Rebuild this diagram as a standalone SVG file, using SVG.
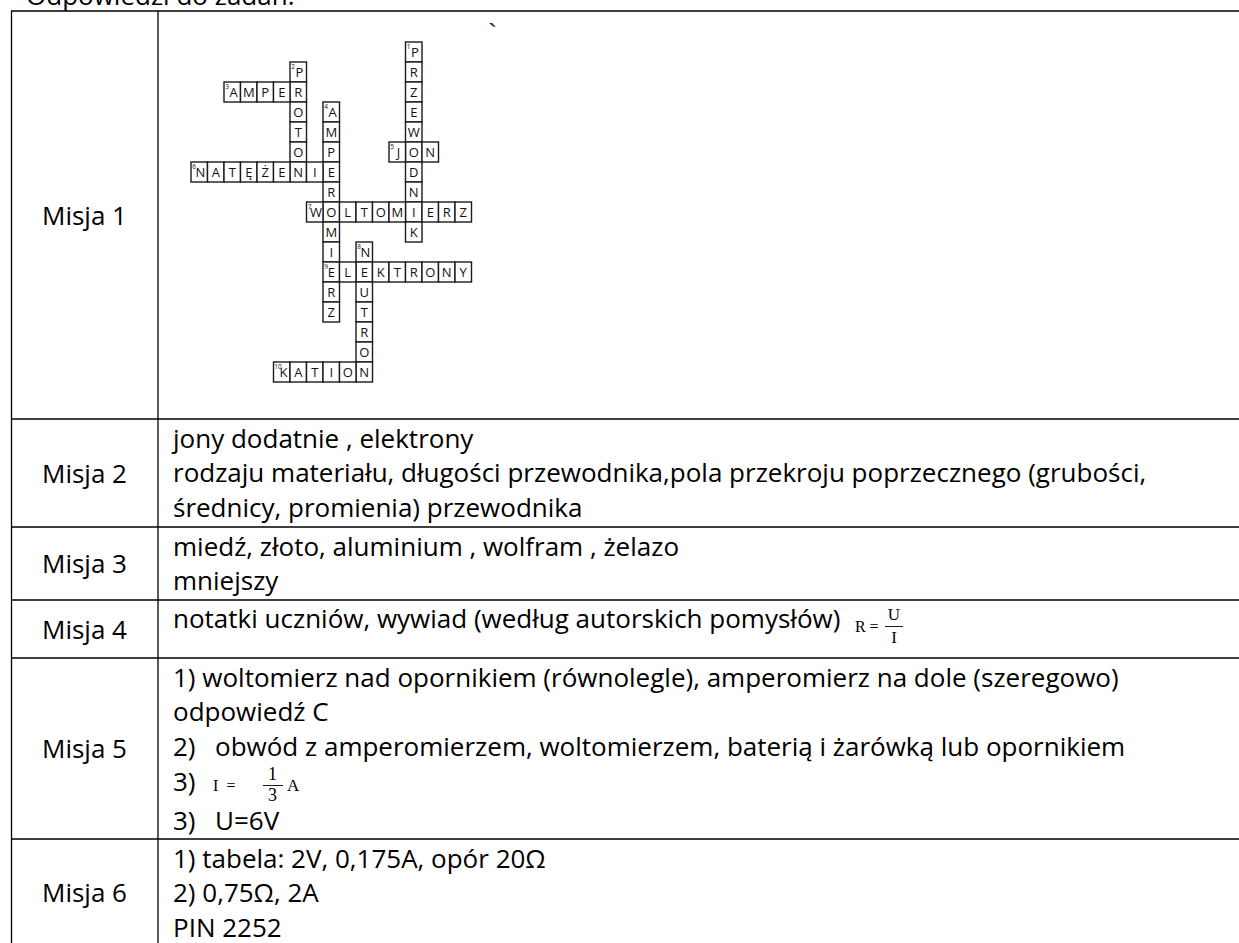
<svg xmlns="http://www.w3.org/2000/svg" width="1239" height="943" viewBox="0 0 1239 943">
<style>
.t{font-family:"Open Sans","Liberation Sans",sans-serif;font-size:26px;fill:#000}
.lbl{text-anchor:middle}
.grid line{stroke:#000;stroke-width:1.3}
.cw rect{fill:#fff;stroke:#1a1a1a;stroke-width:1.4}
.cl{font-family:"Open Sans","Liberation Sans",sans-serif;font-size:13px;fill:#111;text-anchor:middle}
.cn{font-family:"Open Sans","Liberation Sans",sans-serif;font-size:6.5px;fill:#111}
.m{font-family:"Liberation Serif","Times New Roman",serif;fill:#000}
</style>
<rect width="1239" height="943" fill="#fff"/>
<text class="t" x="26" y="5">Odpowiedzi do zadań:</text>
<text x="488" y="43" font-family="Liberation Sans, sans-serif" font-size="28" fill="#333">`</text>

<g id="table-grid" class="grid">
<line x1="11.5" y1="11" x2="11.5" y2="943"/>
<line x1="158" y1="11" x2="158" y2="943"/>
<line x1="11" y1="11" x2="1239" y2="11"/>
<line x1="11" y1="419" x2="1239" y2="419"/>
<line x1="11" y1="527" x2="1239" y2="527"/>
<line x1="11" y1="600" x2="1239" y2="600"/>
<line x1="11" y1="658" x2="1239" y2="658"/>
<line x1="11" y1="839" x2="1239" y2="839"/>
</g>

<g id="labels" class="t lbl">
<text x="84.5" y="224.5">Misja 1</text>
<text x="84.5" y="482.5">Misja 2</text>
<text x="84.5" y="573">Misja 3</text>
<text x="84.5" y="638.5">Misja 4</text>
<text x="84.5" y="758">Misja 5</text>
<text x="84.5" y="902">Misja 6</text>
</g>

<g id="crossword" class="cw">
<g id="w1">
<rect x="405.5" y="42" width="16.5" height="20"/><rect x="405.5" y="62" width="16.5" height="20"/><rect x="405.5" y="82" width="16.5" height="20"/><rect x="405.5" y="102" width="16.5" height="20"/><rect x="405.5" y="122" width="16.5" height="20"/><rect x="405.5" y="142" width="16.5" height="20"/><rect x="405.5" y="162" width="16.5" height="20"/><rect x="405.5" y="182" width="16.5" height="20"/><rect x="405.5" y="202" width="16.5" height="20"/><rect x="405.5" y="222" width="16.5" height="20"/>
<text class="cn" x="406.7" y="49">1</text>
<text class="cl" x="415" y="57">P</text><text class="cl" x="413.75" y="77">R</text><text class="cl" x="413.75" y="97">Z</text><text class="cl" x="413.75" y="117">E</text><text class="cl" x="413.75" y="137">W</text><text class="cl" x="413.75" y="157">O</text><text class="cl" x="413.75" y="177">D</text><text class="cl" x="413.75" y="197">N</text><text class="cl" x="413.75" y="217">I</text><text class="cl" x="413.75" y="237">K</text>
</g>
<g id="w2">
<rect x="290" y="62" width="16.5" height="20"/><rect x="290" y="82" width="16.5" height="20"/><rect x="290" y="102" width="16.5" height="20"/><rect x="290" y="122" width="16.5" height="20"/><rect x="290" y="142" width="16.5" height="20"/><rect x="290" y="162" width="16.5" height="20"/>
<text class="cn" x="291.2" y="69">2</text>
<text class="cl" x="299.5" y="77">P</text><text class="cl" x="298.25" y="97">R</text><text class="cl" x="298.25" y="117">O</text><text class="cl" x="298.25" y="137">T</text><text class="cl" x="298.25" y="157">O</text><text class="cl" x="298.25" y="177">N</text>
</g>
<g id="w3">
<rect x="224" y="82" width="16.5" height="20"/><rect x="240.5" y="82" width="16.5" height="20"/><rect x="257" y="82" width="16.5" height="20"/><rect x="273.5" y="82" width="16.5" height="20"/>
<text class="cn" x="225.2" y="89">3</text>
<text class="cl" x="233.5" y="97">A</text><text class="cl" x="248.75" y="97">M</text><text class="cl" x="265.25" y="97">P</text><text class="cl" x="281.75" y="97">E</text>
</g>
<g id="w4">
<rect x="323" y="102" width="16.5" height="20"/><rect x="323" y="122" width="16.5" height="20"/><rect x="323" y="142" width="16.5" height="20"/><rect x="323" y="162" width="16.5" height="20"/><rect x="323" y="182" width="16.5" height="20"/><rect x="323" y="202" width="16.5" height="20"/><rect x="323" y="222" width="16.5" height="20"/><rect x="323" y="242" width="16.5" height="20"/><rect x="323" y="262" width="16.5" height="20"/><rect x="323" y="282" width="16.5" height="20"/><rect x="323" y="302" width="16.5" height="20"/>
<text class="cn" x="324.2" y="109">4</text>
<text class="cl" x="332.5" y="117">A</text><text class="cl" x="331.25" y="137">M</text><text class="cl" x="331.25" y="157">P</text><text class="cl" x="331.25" y="177">E</text><text class="cl" x="331.25" y="197">R</text><text class="cl" x="331.25" y="217">O</text><text class="cl" x="331.25" y="237">M</text><text class="cl" x="331.25" y="257">I</text><text class="cl" x="331.25" y="277">E</text><text class="cl" x="331.25" y="297">R</text><text class="cl" x="331.25" y="317">Z</text>
</g>
<g id="w5">
<rect x="389" y="142" width="16.5" height="20"/><rect x="422" y="142" width="16.5" height="20"/>
<text class="cn" x="390.2" y="149">5</text>
<text class="cl" x="398.5" y="157">J</text><text class="cl" x="430.25" y="157">N</text>
</g>
<g id="w6">
<rect x="191" y="162" width="16.5" height="20"/><rect x="207.5" y="162" width="16.5" height="20"/><rect x="224" y="162" width="16.5" height="20"/><rect x="240.5" y="162" width="16.5" height="20"/><rect x="257" y="162" width="16.5" height="20"/><rect x="273.5" y="162" width="16.5" height="20"/><rect x="306.5" y="162" width="16.5" height="20"/>
<text class="cn" x="192.2" y="169">6</text>
<text class="cl" x="200.5" y="177">N</text><text class="cl" x="215.75" y="177">A</text><text class="cl" x="232.25" y="177">T</text><text class="cl" x="248.75" y="177">Ę</text><text class="cl" x="265.25" y="177">Ż</text><text class="cl" x="281.75" y="177">E</text><text class="cl" x="314.75" y="177">I</text>
</g>
<g id="w7">
<rect x="306.5" y="202" width="16.5" height="20"/><rect x="339.5" y="202" width="16.5" height="20"/><rect x="356" y="202" width="16.5" height="20"/><rect x="372.5" y="202" width="16.5" height="20"/><rect x="389" y="202" width="16.5" height="20"/><rect x="422" y="202" width="16.5" height="20"/><rect x="438.5" y="202" width="16.5" height="20"/><rect x="455" y="202" width="16.5" height="20"/>
<text class="cn" x="307.7" y="209">7</text>
<text class="cl" x="316" y="217">W</text><text class="cl" x="347.75" y="217">L</text><text class="cl" x="364.25" y="217">T</text><text class="cl" x="380.75" y="217">O</text><text class="cl" x="397.25" y="217">M</text><text class="cl" x="430.25" y="217">E</text><text class="cl" x="446.75" y="217">R</text><text class="cl" x="463.25" y="217">Z</text>
</g>
<g id="w8">
<rect x="356" y="242" width="16.5" height="20"/><rect x="356" y="262" width="16.5" height="20"/><rect x="356" y="282" width="16.5" height="20"/><rect x="356" y="302" width="16.5" height="20"/><rect x="356" y="322" width="16.5" height="20"/><rect x="356" y="342" width="16.5" height="20"/><rect x="356" y="362" width="16.5" height="20"/>
<text class="cn" x="357.2" y="249">8</text>
<text class="cl" x="365.5" y="257">N</text><text class="cl" x="364.25" y="277">E</text><text class="cl" x="364.25" y="297">U</text><text class="cl" x="364.25" y="317">T</text><text class="cl" x="364.25" y="337">R</text><text class="cl" x="364.25" y="357">O</text><text class="cl" x="364.25" y="377">N</text>
</g>
<g id="w9">
<rect x="339.5" y="262" width="16.5" height="20"/><rect x="372.5" y="262" width="16.5" height="20"/><rect x="389" y="262" width="16.5" height="20"/><rect x="405.5" y="262" width="16.5" height="20"/><rect x="422" y="262" width="16.5" height="20"/><rect x="438.5" y="262" width="16.5" height="20"/><rect x="455" y="262" width="16.5" height="20"/>
<text class="cn" x="324.2" y="269">9</text>
<text class="cl" x="347.75" y="277">L</text><text class="cl" x="380.75" y="277">K</text><text class="cl" x="397.25" y="277">T</text><text class="cl" x="413.75" y="277">R</text><text class="cl" x="430.25" y="277">O</text><text class="cl" x="446.75" y="277">N</text><text class="cl" x="463.25" y="277">Y</text>
</g>
<g id="w10">
<rect x="273.5" y="362" width="16.5" height="20"/><rect x="290" y="362" width="16.5" height="20"/><rect x="306.5" y="362" width="16.5" height="20"/><rect x="323" y="362" width="16.5" height="20"/><rect x="339.5" y="362" width="16.5" height="20"/>
<text class="cn" x="274.3" y="369" font-size="6">10</text>
<text class="cl" x="283.5" y="377">K</text><text class="cl" x="298.25" y="377">A</text><text class="cl" x="314.75" y="377">T</text><text class="cl" x="331.25" y="377">I</text><text class="cl" x="347.75" y="377">O</text>
</g>
</g>

<g id="misja2" class="t">
<text x="173" y="447.5">jony dodatnie , elektrony</text>
<text x="173" y="482">rodzaju materiału, długości przewodnika,pola przekroju poprzecznego (grubości,</text>
<text x="173" y="517">średnicy, promienia) przewodnika</text>
</g>
<g id="misja3" class="t">
<text x="173" y="555.5">miedź, złoto, aluminium , wolfram , żelazo</text>
<text x="173" y="590">mniejszy</text>
</g>
<g id="misja4">
<text class="t" x="173" y="628">notatki uczniów, wywiad (według autorskich pomysłów)</text>
<text class="m" x="855" y="632" font-size="16">R</text>
<text class="m" x="874" y="632" font-size="16" text-anchor="middle">=</text>
<line x1="885" y1="626.5" x2="903" y2="626.5" stroke="#000" stroke-width="0.9"/>
<text class="m" x="894" y="620" font-size="17" text-anchor="middle">U</text>
<text class="m" x="894" y="643" font-size="17" text-anchor="middle">I</text>
</g>
<g id="misja5">
<text class="t" x="173" y="686.5">1) woltomierz nad opornikiem (równolegle), amperomierz na dole (szeregowo)</text>
<text class="t" x="173" y="721">odpowiedź C</text>
<text class="t" x="173" y="756">2)<tspan x="215">obwód z amperomierzem, woltomierzem, baterią i żarówką lub opornikiem</tspan></text>
<text class="t" x="173" y="791">3)</text>
<text class="m" x="213" y="791" font-size="16">I</text>
<text class="m" x="231" y="791" font-size="16" text-anchor="middle">=</text>
<line x1="263" y1="785.5" x2="283" y2="785.5" stroke="#000" stroke-width="0.9"/>
<text class="m" x="272.5" y="780" font-size="18" text-anchor="middle">1</text>
<text class="m" x="272.5" y="801" font-size="18" text-anchor="middle">3</text>
<text class="m" x="287" y="791" font-size="17">A</text>
<text class="t" x="173" y="830">3)<tspan x="215">U=6V</tspan></text>
</g>
<g id="misja6" class="t">
<text x="173" y="867.5">1) tabela: 2V, 0,175A, opór 20Ω</text>
<text x="173" y="902">2) 0,75Ω, 2A</text>
<text x="173" y="937">PIN 2252</text>
</g>
</svg>
